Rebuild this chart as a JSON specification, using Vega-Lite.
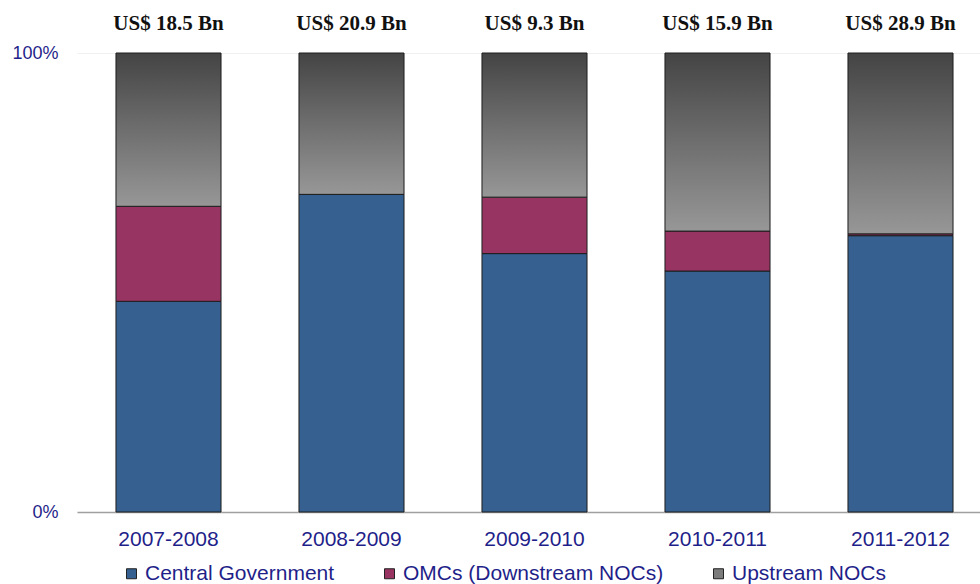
{
  "$schema": "https://vega.github.io/schema/vega-lite/v6.json",
  "width": 915,
  "height": 459,
  "autosize": {"type": "none"},
  "padding": {"left": 77, "top": 53, "right": 0, "bottom": 72},
  "background": "white",
  "config": {"view": {"stroke": null}, "font": "Liberation Sans"},
  "data": {
    "values": [
      {"period": "2007-2008", "segment": "Central Government", "value": 45.9, "total": "US$ 18.5 Bn"},
      {"period": "2007-2008", "segment": "OMCs (Downstream NOCs)", "value": 20.7, "total": "US$ 18.5 Bn"},
      {"period": "2007-2008", "segment": "Upstream NOCs", "value": 33.4, "total": "US$ 18.5 Bn"},
      {"period": "2008-2009", "segment": "Central Government", "value": 69.2, "total": "US$ 20.9 Bn"},
      {"period": "2008-2009", "segment": "OMCs (Downstream NOCs)", "value": 0.0, "total": "US$ 20.9 Bn"},
      {"period": "2008-2009", "segment": "Upstream NOCs", "value": 30.8, "total": "US$ 20.9 Bn"},
      {"period": "2009-2010", "segment": "Central Government", "value": 56.3, "total": "US$ 9.3 Bn"},
      {"period": "2009-2010", "segment": "OMCs (Downstream NOCs)", "value": 12.3, "total": "US$ 9.3 Bn"},
      {"period": "2009-2010", "segment": "Upstream NOCs", "value": 31.4, "total": "US$ 9.3 Bn"},
      {"period": "2010-2011", "segment": "Central Government", "value": 52.5, "total": "US$ 15.9 Bn"},
      {"period": "2010-2011", "segment": "OMCs (Downstream NOCs)", "value": 8.7, "total": "US$ 15.9 Bn"},
      {"period": "2010-2011", "segment": "Upstream NOCs", "value": 38.8, "total": "US$ 15.9 Bn"},
      {"period": "2011-2012", "segment": "Central Government", "value": 60.2, "total": "US$ 28.9 Bn"},
      {"period": "2011-2012", "segment": "OMCs (Downstream NOCs)", "value": 0.4, "total": "US$ 28.9 Bn"},
      {"period": "2011-2012", "segment": "Upstream NOCs", "value": 39.4, "total": "US$ 28.9 Bn"}
    ]
  },
  "layer": [
    {
      "mark": {"type": "bar", "stroke": "#1e1e1e", "strokeWidth": 1},
      "encoding": {
        "x": {
          "field": "period", "type": "nominal", "sort": null,
          "scale": {"paddingInner": 0.426, "paddingOuter": 0.213},
          "axis": {
            "title": null, "labelAngle": 0, "ticks": false,
            "domainColor": "#a0a0a0", "domainWidth": 1.5,
            "labelColor": "#1F1F8A", "labelFontSize": 21, "labelPadding": 16,
            "labelFont": "Liberation Sans"
          }
        },
        "y": {
          "field": "value", "type": "quantitative", "stack": "normalize",
          "scale": {"domain": [0, 1]},
          "axis": {
            "title": null, "values": [0, 1], "format": "%", "ticks": false,
            "domain": false, "grid": true, "gridColor": "#f0f0f0",
            "labelColor": "#1F1F8A", "labelFontSize": 18, "labelPadding": 19,
            "labelFont": "Liberation Sans"
          }
        },
        "order": {"field": "segment", "sort": "ascending"},
        "fill": {
          "field": "segment", "type": "nominal",
          "scale": {
            "domain": ["Central Government", "OMCs (Downstream NOCs)", "Upstream NOCs"],
            "range": ["#35608F", "#983462", "#7c7c7c"]
          },
          "condition": {
            "test": "datum.segment === 'Upstream NOCs'",
            "value": {
              "gradient": "linear", "x1": 0, "y1": 0, "x2": 0, "y2": 1,
              "stops": [
                {"offset": 0, "color": "#444444"},
                {"offset": 0.45, "color": "#6a6a6a"},
                {"offset": 1, "color": "#979797"}
              ]
            }
          },
          "legend": {
            "title": null, "orient": "none", "direction": "horizontal",
            "legendX": 44, "legendY": 510, "padding": 0,
            "symbolType": "square", "symbolSize": 100,
            "symbolStrokeColor": "#222222", "symbolStrokeWidth": 1,
            "labelColor": "#1F1F8A", "labelFontSize": 21, "labelFont": "Liberation Sans",
            "labelOffset": 3, "columnPadding": 44, "labelLimit": 400
          }
        }
      }
    },
    {
      "transform": [{"filter": "datum.segment === 'Central Government'"}],
      "mark": {
        "type": "text", "dy": -29, "font": "Liberation Serif",
        "fontWeight": "bold", "fontSize": 21, "color": "#111111", "baseline": "middle"
      },
      "encoding": {
        "x": {"field": "period", "type": "nominal", "sort": null},
        "y": {"datum": 1, "type": "quantitative"},
        "text": {"field": "total"}
      }
    }
  ]
}
